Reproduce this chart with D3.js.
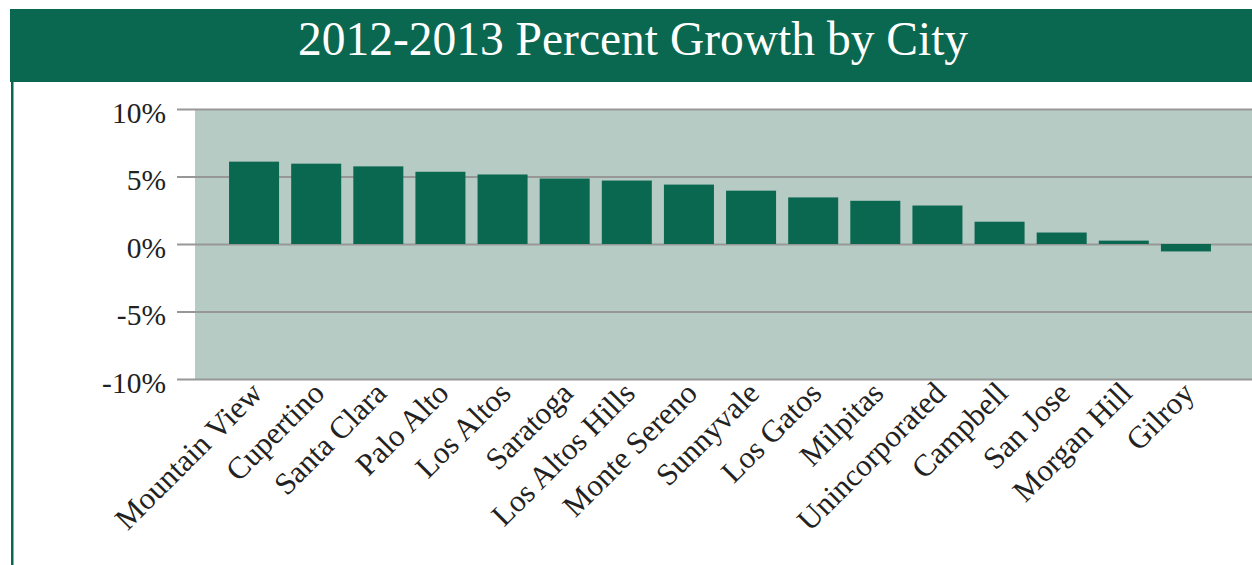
<!DOCTYPE html>
<html>
<head>
<meta charset="utf-8">
<script src="https://cdn.jsdelivr.net/npm/d3@7"></script>
<style>
  body { margin: 0; background: #fff; }
  text { font-family: "Liberation Serif", "DejaVu Serif", serif; }
</style>
</head>
<body>
<div id="chart"></div>
<script>
// data
let cities = ["Mountain View", "Cupertino", "Santa Clara", "Palo Alto", "Los Altos", "Saratoga",
  "Los Altos Hills", "Monte Sereno", "Sunnyvale", "Los Gatos", "Milpitas", "Unincorporated",
  "Campbell", "San Jose", "Morgan Hill", "Gilroy"];
let growth = [6.1, 5.95, 5.75, 5.35, 5.15, 4.85, 4.7, 4.4, 3.95, 3.45, 3.2, 2.85, 1.65, 0.85, 0.25, -0.55];
let yTicks = [-10, -5, 0, 5, 10];
let title = "2012-2013 Percent Growth by City";

let width = 1252, height = 565;
let green = "#0a6750";

let svg = d3.select("#chart")
  .append("svg")
    .attr("width", width)
    .attr("height", height);

// title bar
svg.append("rect")
  .attr("x", 10).attr("y", 9)
  .attr("width", width - 10).attr("height", 73)
  .attr("fill", green);

svg.append("text")
  .attr("x", 633).attr("y", 55)
  .attr("text-anchor", "middle")
  .attr("fill", "#fff")
  .style("font-size", "47.5px")
  .text(title);

// left border
svg.append("rect")
  .attr("x", 11).attr("y", 82)
  .attr("width", 2.5).attr("height", height - 82)
  .attr("fill", green);

let y = d3.scaleLinear().domain([-10, 10]).range([379, 109]);
let x = d3.scaleBand().domain(cities).range([223, 1217])
  .paddingInner(0.195).paddingOuter(0.0975);

// plot background
svg.append("rect")
  .attr("x", 195).attr("y", y(10))
  .attr("width", width - 195).attr("height", y(-10) - y(10))
  .attr("fill", "#b6cbc4");

// grid + tick labels
let yAxis = d3.axisLeft(y).tickValues(yTicks)
  .tickSize(-(width - 177))
  .tickFormat(d => d + "%");

let yg = svg.append("g")
  .attr("transform", "translate(177,0)")
  .call(yAxis);
yg.select(".domain").remove();
yg.selectAll(".tick line")
  .attr("x2", width - 177)
  .attr("stroke", "#979797")
  .attr("stroke-width", 2);
yg.selectAll(".tick text")
  .attr("x", -11)
  .attr("dy", "0.45em")
  .attr("fill", "#222")
  .style("font-size", "29.5px")
  .style("font-family", "Liberation Serif, serif");

// bars
svg.selectAll("rect.bar").data(growth)
  .enter()
    .append("rect")
    .attr("class", "bar")
    .attr("x", (d, i) => x(cities[i]))
    .attr("y", d => y(Math.max(0, d)))
    .attr("width", x.bandwidth())
    .attr("height", d => Math.abs(y(d) - y(0)))
    .attr("fill", green);

// rotated city labels
svg.selectAll("text.city").data(cities)
  .enter()
    .append("text")
    .attr("class", "city")
    .attr("text-anchor", "end")
    .attr("transform", d => "translate(" + (x(d) + x.bandwidth() / 2 + 10) + ",395) rotate(-45)")
    .attr("fill", "#222")
    .style("font-size", "31px")
    .text(d => d);
</script>
</body>
</html>
